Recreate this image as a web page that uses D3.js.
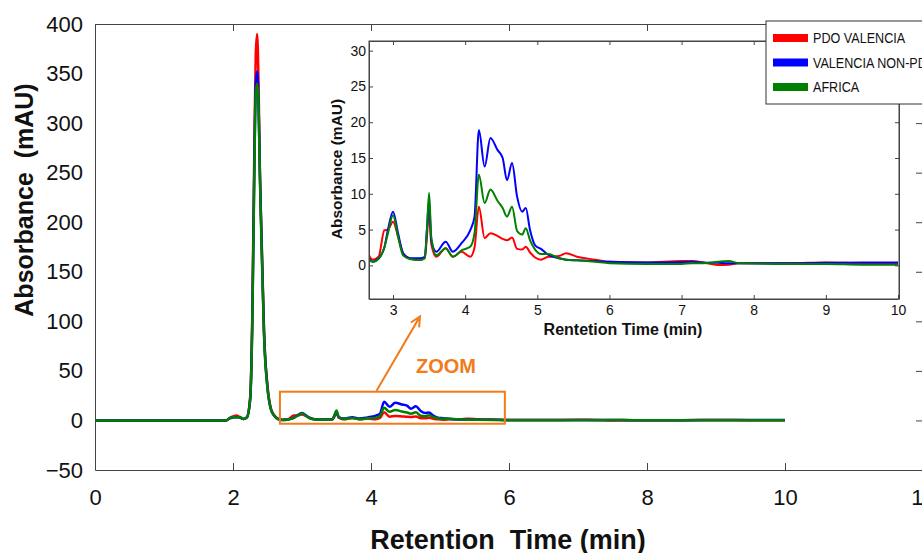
<!DOCTYPE html>
<html>
<head>
<meta charset="utf-8">
<script src="https://cdn.jsdelivr.net/npm/d3@7"></script>
<style>
  body { margin: 0; background: #fff; }
  svg { font-family: "Liberation Sans", Arial, sans-serif; }
</style>
</head>
<body>
<svg id="chart" width="922" height="553"></svg>
<script>
// retention time (min), shared by all three chromatograms
var times = [0, 1.9, 1.95, 2.0, 2.05, 2.1, 2.15, 2.2, 2.25, 2.28,
  2.31, 2.33, 2.35, 2.37, 2.39, 2.42, 2.45, 2.5, 2.55, 2.6,
  2.66, 2.72, 2.8, 2.88, 2.93, 3.0, 3.07, 3.14, 3.23, 3.37,
  3.44, 3.47, 3.5, 3.53, 3.6, 3.73, 3.83, 3.95, 4.07, 4.13,
  4.19, 4.27, 4.35, 4.45, 4.52, 4.58, 4.65, 4.72, 4.79, 4.84,
  4.9, 4.97, 5.05, 5.15, 5.3, 5.4, 5.55, 5.8, 6.0, 6.5,
  7.0, 7.15, 7.3, 7.5, 7.65, 7.8, 8.5, 9.0, 9.5, 10.0];

// absorbance (mAU)
var pdoValencia = [0, 0, 2.5, 4, 5, 3, 1.5, 3, 25, 110,
  280, 370, 390, 340, 250, 170, 90, 35, 12, 5,
  1.6, 0.8, 1.2, 4.9, 5.0, 6.1, 4.0, 1.7, 1.0, 0.75,
  1.0, 4.0, 7.7, 3.0, 1.2, 2.4, 1.2, 1.9, 1.2, 2.5,
  8.2, 3.8, 4.5, 4.1, 3.7, 3.5, 3.9, 2.3, 2.2, 2.6,
  1.8, 1.1, 0.8, 1.2, 1.3, 1.7, 1.2, 0.8, 0.5, 0.4,
  0.6, 0.6, 0.4, 0.05, 0.1, 0.3, 0.3, 0.4, 0.3, 0.3];

var valenciaNonPdo = [0, 0, 2, 3, 3.5, 3, 1.5, 3, 22, 100,
  260, 340, 352, 320, 250, 165, 88, 33, 11, 4.5,
  1.2, 0.5, 1.0, 2.5, 5.0, 7.5, 4.5, 1.7, 1.0, 1.0,
  1.2, 5, 9.1, 3.5, 1.9, 3.3, 1.9, 3.1, 4.9, 6.8,
  18.9, 13.8, 17.8, 16.1, 15.0, 11.9, 14.3, 9.6, 7.5, 8.0,
  4.9, 2.8, 2.3, 1.5, 1.0, 0.8, 0.7, 0.6, 0.5, 0.4,
  0.45, 0.5, 0.4, 0.35, 0.3, 0.3, 0.3, 0.35, 0.4, 0.4];

var africa = [0, 0, 2, 3.5, 3, 3.5, 1.5, 3, 22, 100,
  255, 330, 340, 320, 245, 160, 85, 32, 11, 4.5,
  1.0, 0.5, 0.9, 2.5, 4.5, 7.0, 4.0, 1.4, 0.9, 0.75,
  1.0, 5, 10.1, 4, 1.4, 2.4, 1.2, 2.1, 2.6, 4.5,
  12.7, 8.7, 10.6, 9.0, 8.0, 6.8, 8.2, 4.8, 4.3, 5.2,
  3.5, 2.2, 1.6, 1.6, 1.0, 0.8, 0.7, 0.5, 0.3, 0.2,
  0.2, 0.3, 0.3, 0.5, 0.6, 0.3, 0.2, 0.2, 0.1, 0.1];

var seriesNames = ["PDO VALENCIA", "VALENCIA NON-PDO", "AFRICA"];
var seriesColors = ["#ff0000", "#0000ff", "#008000"];

var mainXTicks = [0, 2, 4, 6, 8, 10, 12];
var mainYTicks = [-50, 0, 50, 100, 150, 200, 250, 300, 350, 400];
var insetXTicks = [3, 4, 5, 6, 7, 8, 9, 10];
var insetYTicks = [0, 5, 10, 15, 20, 25, 30];

// zoomed window marked on the main plot, and the arrow to the inset (data units)
var zoomBox = [2.68, 5.94, -3.3, 29];
var zoomArrow = [[4.08, 30], [4.71, 105]];

var axisColor = "#444";
var orange = "#f07c1c";

var svg = d3.select("#chart");

var series = [pdoValencia, valenciaNonPdo, africa].map(function(vals, i) {
  return {
    name: seriesNames[i],
    color: seriesColors[i],
    values: times.map(function(t, j) { return {t: t, v: vals[j]}; })
  };
});

// ---------- main plot ----------
var m = {left: 95, right: 923, top: 24, bottom: 470};
var x = d3.scaleLinear().domain([0, 12]).range([m.left, m.right]);
var y = d3.scaleLinear().domain([-50, 400]).range([m.bottom, m.top]);

function styleAxis(g, size) {
  g.select(".domain").attr("stroke", axisColor);
  g.selectAll(".tick line").attr("stroke", axisColor);
  g.selectAll(".tick text").attr("fill", "#111").attr("font-size", size);
}

svg.append("g")
  .attr("transform", "translate(0," + m.bottom + ")")
  .call(d3.axisBottom(x).tickValues(mainXTicks).tickSizeInner(-7).tickSizeOuter(0).tickPadding(19))
  .call(styleAxis, 22);

svg.append("g")
  .attr("transform", "translate(0," + m.top + ")")
  .call(d3.axisTop(x).tickValues(mainXTicks).tickSizeInner(-7).tickSizeOuter(0).tickFormat(""))
  .call(styleAxis, 22);

svg.append("g")
  .attr("transform", "translate(" + m.left + ",0)")
  .call(d3.axisLeft(y).tickValues(mainYTicks).tickSizeInner(0).tickSizeOuter(0).tickPadding(12))
  .call(styleAxis, 22);

svg.append("g")
  .attr("transform", "translate(" + m.right + ",0)")
  .call(d3.axisRight(y).tickValues(mainYTicks).tickSizeInner(-7).tickSizeOuter(0).tickFormat(""))
  .call(styleAxis, 22);

var line = d3.line()
  .x(function(d) { return x(d.t); })
  .y(function(d) { return y(d.v); })
  .curve(d3.curveMonotoneX);

svg.append("g").selectAll("path").data(series).enter()
  .append("path")
  .attr("d", function(d) { return line(d.values); })
  .attr("fill", "none")
  .attr("stroke", function(d) { return d.color; })
  .attr("stroke-width", 2.5)
  .attr("stroke-linejoin", "round");

// axis titles
svg.append("text")
  .attr("x", 508).attr("y", 549)
  .attr("text-anchor", "middle")
  .attr("font-size", 27).attr("font-weight", "bold")
  .attr("fill", "#111")
  .attr("xml:space", "preserve")
  .text("Retention  Time (min)");

svg.append("text")
  .attr("transform", "translate(33,200) rotate(-90)")
  .attr("text-anchor", "middle")
  .attr("font-size", 25).attr("font-weight", "bold")
  .attr("fill", "#111")
  .attr("xml:space", "preserve")
  .text("Absorbance  (mAU)");

// zoom box, arrow and label
svg.append("rect")
  .attr("x", x(zoomBox[0])).attr("y", y(zoomBox[3]))
  .attr("width", x(zoomBox[1]) - x(zoomBox[0]))
  .attr("height", y(zoomBox[2]) - y(zoomBox[3]))
  .attr("fill", "none").attr("stroke", orange).attr("stroke-width", 2);

var a0 = [x(zoomArrow[0][0]), y(zoomArrow[0][1])];
var a1 = [x(zoomArrow[1][0]), y(zoomArrow[1][1])];
var ang = Math.atan2(a1[1] - a0[1], a1[0] - a0[0]);
var headLen = 11, headAng = 0.45;
svg.append("path")
  .attr("d", "M" + a0 + "L" + a1 +
    "M" + [a1[0] - headLen * Math.cos(ang - headAng), a1[1] - headLen * Math.sin(ang - headAng)] +
    "L" + a1 +
    "L" + [a1[0] - headLen * Math.cos(ang + headAng), a1[1] - headLen * Math.sin(ang + headAng)])
  .attr("fill", "none").attr("stroke", orange).attr("stroke-width", 2);

svg.append("text")
  .attr("x", 446).attr("y", 373)
  .attr("text-anchor", "middle")
  .attr("font-size", 20).attr("font-weight", "bold")
  .attr("fill", orange)
  .text("ZOOM");

// ---------- inset ----------
var ins = {left: 369, right: 899, top: 41, bottom: 299};
var xi = d3.scaleLinear().domain([2.667, 10]).range([ins.left, 898]);
var yi = d3.scaleLinear().domain([-4.7, 31.35]).range([ins.bottom, ins.top]);

svg.append("rect")
  .attr("x", ins.left).attr("y", ins.top)
  .attr("width", ins.right - ins.left).attr("height", ins.bottom - ins.top)
  .attr("fill", "#fff");

svg.append("clipPath").attr("id", "insetClip")
  .append("rect")
  .attr("x", ins.left).attr("y", ins.top)
  .attr("width", ins.right - ins.left).attr("height", ins.bottom - ins.top);

var lineI = d3.line()
  .x(function(d) { return xi(d.t); })
  .y(function(d) { return yi(d.v); })
  .curve(d3.curveMonotoneX);

svg.append("g").attr("clip-path", "url(#insetClip)")
  .selectAll("path").data(series).enter()
  .append("path")
  .attr("d", function(d) { return lineI(d.values); })
  .attr("fill", "none")
  .attr("stroke", function(d) { return d.color; })
  .attr("stroke-width", 2)
  .attr("stroke-linejoin", "round");

svg.append("g")
  .attr("transform", "translate(0," + ins.bottom + ")")
  .call(d3.axisBottom(xi).tickValues(insetXTicks).tickSizeInner(-4).tickSizeOuter(0).tickPadding(6))
  .call(styleAxis, 14);

svg.append("g")
  .attr("transform", "translate(0," + ins.top + ")")
  .call(d3.axisTop(xi).tickValues(insetXTicks).tickSizeInner(-4).tickSizeOuter(0).tickFormat(""))
  .call(styleAxis, 14);

svg.append("g")
  .attr("transform", "translate(" + ins.left + ",0)")
  .call(d3.axisLeft(yi).tickValues(insetYTicks).tickSizeInner(-4).tickSizeOuter(0).tickPadding(3))
  .call(styleAxis, 14);

svg.append("g")
  .attr("transform", "translate(" + ins.right + ",0)")
  .call(d3.axisRight(yi).tickValues(insetYTicks).tickSizeInner(-4).tickSizeOuter(0).tickFormat(""))
  .call(styleAxis, 14);

svg.append("rect")
  .attr("x", ins.left).attr("y", ins.top)
  .attr("width", ins.right - ins.left).attr("height", ins.bottom - ins.top)
  .attr("fill", "none").attr("stroke", axisColor);

svg.append("text")
  .attr("x", 623).attr("y", 335)
  .attr("text-anchor", "middle")
  .attr("font-size", 16).attr("font-weight", "bold")
  .attr("fill", "#111")
  .text("Rentetion Time (min)");

svg.append("text")
  .attr("transform", "translate(342,169) rotate(-90)")
  .attr("text-anchor", "middle")
  .attr("font-size", 15.5).attr("font-weight", "bold")
  .attr("fill", "#111")
  .text("Absorbance (mAU)");

// ---------- legend ----------
var legend = svg.append("g");
legend.append("rect")
  .attr("x", 766).attr("y", 21)
  .attr("width", 200).attr("height", 83)
  .attr("fill", "#fff").attr("stroke", "#333");

var items = legend.selectAll("g.item").data(series).enter()
  .append("g").attr("class", "item")
  .attr("transform", function(d, i) { return "translate(0," + (38 + i * 24.5) + ")"; });

items.append("line")
  .attr("x1", 773).attr("x2", 808)
  .attr("stroke", function(d) { return d.color; })
  .attr("stroke-width", 8);

items.append("text")
  .attr("transform", "translate(813,0) scale(0.84,1)")
  .attr("dy", "0.36em")
  .attr("font-size", 15)
  .attr("fill", "#111")
  .text(function(d) { return d.name; });
</script>
</body>
</html>
